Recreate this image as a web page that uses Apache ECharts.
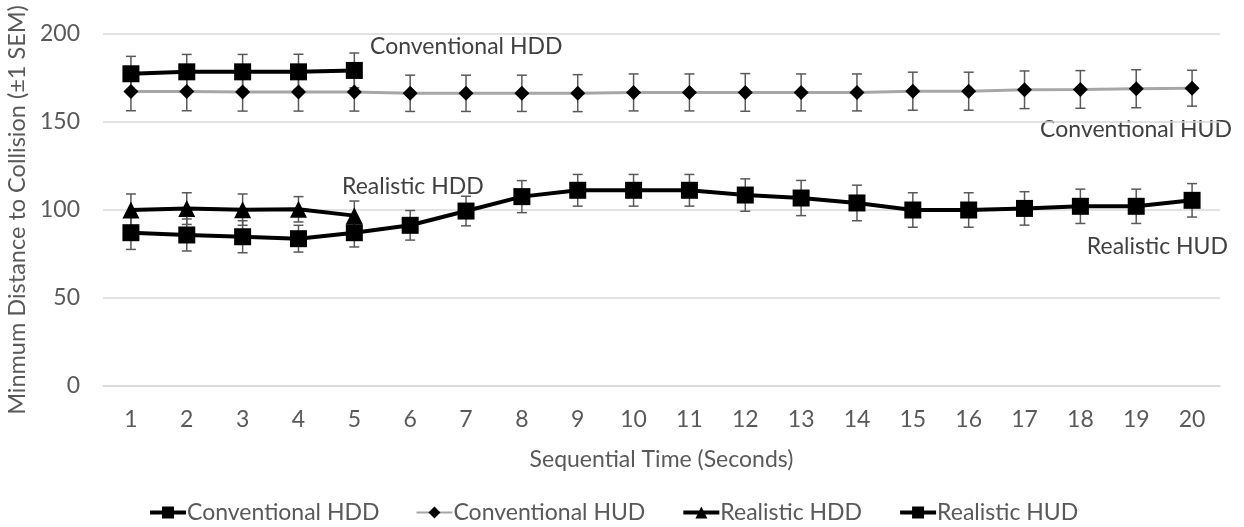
<!DOCTYPE html>
<html>
<head>
<meta charset="utf-8">
<script src="https://cdn.jsdelivr.net/npm/echarts@6/dist/echarts.min.js"></script>
<style>html,body{margin:0;padding:0;background:#fff}#c{width:1244px;height:527px}</style>
</head>
<body>
<div id="c"></div>
<script>
const categories = ['1','2','3','4','5','6','7','8','9','10','11','12','13','14','15','16','17','18','19','20'];
const yTicks = [0, 50, 100, 150, 200];

const convHDD = [177.4, 178.5, 178.5, 178.5, 179.3];
const convHDDsem = [9.9, 9.9, 9.9, 10.0, 9.9];

const convHUD = [167.4, 167.4, 167.0, 167.0, 167.0, 166.3, 166.3, 166.3, 166.4, 166.8, 166.8, 166.8, 166.8, 166.8, 167.5, 167.5, 168.3, 168.5, 168.9, 169.2];
const convHUDsem = [11.0, 11.0, 10.8, 10.8, 10.8, 10.3, 10.3, 10.3, 10.5, 10.5, 10.5, 10.7, 10.5, 10.5, 10.8, 10.8, 10.7, 10.7, 10.8, 10.2];

const realHDD = [100.0, 100.8, 100.2, 100.4, 96.8];
const realHDDsem = [9.1, 9.0, 8.9, 7.2, 8.3];

const realHUD = [87.1, 85.8, 84.8, 83.7, 87.1, 91.3, 99.4, 107.6, 111.2, 111.2, 111.2, 108.5, 106.8, 104.0, 100.0, 100.0, 100.9, 102.1, 102.1, 105.5];
const realHUDsem = [9.5, 9.1, 9.1, 7.6, 8.1, 8.4, 8.4, 9.1, 9.0, 9.0, 9.0, 9.2, 10.0, 10.1, 9.8, 9.8, 9.5, 9.75, 9.75, 9.5];

const seriesNames = ['Conventional HDD', 'Conventional HUD', 'Realistic HDD', 'Realistic HUD'];

const FONT = 'Lato';
const TXT = '#595959';
const FS = 23;

function errData(vals, sems) {
  return vals.map((v, i) => [i, v - sems[i], v + sems[i]]);
}
function errRender(params, api) {
  const x = api.value(0);
  const lo = api.coord([x, api.value(1)]);
  const hi = api.coord([x, api.value(2)]);
  const w = 5;
  const st = { stroke: '#595959', lineWidth: 1.5 };
  return {
    type: 'group',
    children: [
      { type: 'line', shape: { x1: hi[0], y1: hi[1], x2: lo[0], y2: lo[1] }, style: st },
      { type: 'line', shape: { x1: hi[0] - w, y1: hi[1], x2: hi[0] + w, y2: hi[1] }, style: st },
      { type: 'line', shape: { x1: lo[0] - w, y1: lo[1], x2: lo[0] + w, y2: lo[1] }, style: st }
    ]
  };
}
function errSeries(vals, sems, z) {
  return {
    type: 'custom', renderItem: errRender, data: errData(vals, sems),
    encode: { x: 0, y: [1, 2] }, z: z, silent: true, animation: false
  };
}

const chart = echarts.init(document.getElementById('c'), null, { renderer: 'canvas' });
chart.setOption({
  animation: false,
  textStyle: { fontFamily: FONT },
  grid: { left: 103, right: 24, top: 34, bottom: 141, containLabel: false, outerBoundsMode: 'none' },
  xAxis: {
    type: 'category', data: categories, boundaryGap: true,
    axisLine: { show: true, lineStyle: { color: '#d9d9d9', width: 1.5 } },
    axisTick: { show: false },
    axisLabel: { color: TXT, fontSize: FS, fontFamily: FONT, margin: 22, interval: 0 },
    name: 'Sequential Time (Seconds)', nameLocation: 'middle', nameGap: 62,
    nameTextStyle: { color: TXT, fontSize: FS, fontFamily: FONT }
  },
  yAxis: {
    type: 'value', min: yTicks[0], max: yTicks[yTicks.length - 1], interval: 50,
    axisLine: { show: false }, axisTick: { show: false },
    splitLine: { lineStyle: { color: '#d9d9d9', width: 1.5 } },
    axisLabel: { color: TXT, fontSize: FS, fontFamily: FONT, margin: 23 },
    name: 'Minmum Distance to Collision (±1 SEM)', nameLocation: 'middle', nameGap: 71,
    nameRotate: 90,
    nameTextStyle: { color: TXT, fontSize: 23.5, fontFamily: FONT }
  },
  legend: {
    data: [
      { name: seriesNames[0], lineStyle: { width: 4, color: '#000' } },
      { name: seriesNames[1], lineStyle: { width: 2, color: '#a6a6a6' } },
      { name: seriesNames[2], lineStyle: { width: 4, color: '#000' } },
      { name: seriesNames[3], lineStyle: { width: 4, color: '#000' } }
    ],
    bottom: -2, left: 143,
    itemWidth: 36, itemHeight: 15, itemGap: 36,
    textStyle: { color: TXT, fontSize: FS, fontFamily: FONT, padding: [0, 0, 0, -4] }
  },
  graphic: [
    { type: 'text', x: 370, y: 47, style: { text: 'Conventional HDD', fill: '#404040', font: FS + 'px ' + FONT, verticalAlign: 'middle' } },
    { type: 'text', x: 1232, y: 130, style: { text: 'Conventional HUD', fill: '#404040', font: FS + 'px ' + FONT, verticalAlign: 'middle', align: 'right' } },
    { type: 'text', x: 342, y: 187, style: { text: 'Realistic HDD', fill: '#404040', font: FS + 'px ' + FONT, verticalAlign: 'middle' } },
    { type: 'text', x: 1228, y: 247, style: { text: 'Realistic HUD', fill: '#404040', font: FS + 'px ' + FONT, verticalAlign: 'middle', align: 'right' } }
  ],
  series: [
    errSeries(convHUD, convHUDsem, 1),
    errSeries(convHDD, convHDDsem, 1),
    errSeries(realHDD, realHDDsem, 1),
    errSeries(realHUD, realHUDsem, 1),
    {
      name: 'Conventional HUD', type: 'line', data: convHUD, z: 3,
      symbol: 'diamond', symbolSize: 15,
      lineStyle: { color: '#a6a6a6', width: 3 },
      itemStyle: { color: '#000', borderWidth: 0 }
    },
    {
      name: 'Conventional HDD', type: 'line', data: convHDD, z: 4,
      symbol: 'rect', symbolSize: 17,
      lineStyle: { color: '#000', width: 4 },
      itemStyle: { color: '#000', borderWidth: 0 }
    },
    {
      name: 'Realistic HDD', type: 'line', data: realHDD, z: 4,
      symbol: 'triangle', symbolSize: 17,
      lineStyle: { color: '#000', width: 4 },
      itemStyle: { color: '#000', borderWidth: 0 }
    },
    {
      name: 'Realistic HUD', type: 'line', data: realHUD, z: 5,
      symbol: 'rect', symbolSize: 17,
      lineStyle: { color: '#000', width: 4 },
      itemStyle: { color: '#000', borderWidth: 0 }
    }
  ]
});
</script>
</body>
</html>
